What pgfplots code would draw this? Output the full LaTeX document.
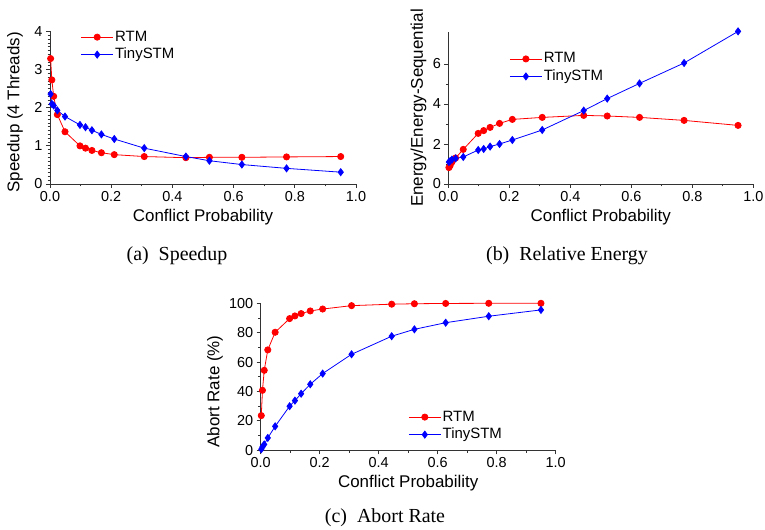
\documentclass[border=0pt]{standalone}
\usepackage{fontspec}
\setmainfont{Liberation Sans}
\newfontfamily\capfont{Liberation Serif}
\usepackage{pgfplots}
\usepackage{pgfplotstable}
\pgfplotsset{compat=1.18}

\pgfplotstableread{
x      spR   spT   enR   enT   abR   abT
0.002  3.29  2.36  0.82  1.10  23.6  0.7
0.006  2.73  2.10  0.92  1.15  40.8  2.3
0.012  2.30  2.06  1.10  1.22  54.4  4.0
0.024  1.82  1.93  1.30  1.28  68.3  8.4
0.049  1.37  1.77  1.73  1.35  80.3  16.3
0.098  1.00  1.55  2.53  1.70  89.6  30.0
0.116  0.94  1.49  2.67  1.75  91.4  33.8
0.137  0.88  1.41  2.83  1.87  93.0  38.5
0.168  0.82  1.30  3.03  2.00  94.8  44.9
0.210  0.77  1.18  3.23  2.20  96.1  52.2
0.308  0.72  0.94  3.33  2.70  98.4  65.3
0.444  0.69  0.72  3.43  3.67  99.4  77.6
0.521  0.70  0.61  3.40  4.27  99.7  82.3
0.627  0.70  0.51  3.33  5.03  99.9  86.8
0.773  0.71  0.41  3.18  6.05  100.0 91.2
0.950  0.72  0.31  2.93  7.63  100.0 95.5
}\data

\pgfplotsset{
  myax/.style={
    scale only axis,
    anchor=south west,
    axis x line*=bottom, axis y line*=left,
    tick align=outside,
    xmin=0, xmax=1,
    xtick={0,0.2,0.4,0.6,0.8,1},
    minor x tick num=1,
    x tick label style={/pgf/number format/.cd, fixed, fixed zerofill, precision=1, /tikz/.cd},
    /pgf/number format/assume math mode=true,
    tick label style={font=\fontsize{14.5}{15}\selectfont},
    label style={font=\fontsize{17}{18}\selectfont},
    xlabel={Conflict Probability},
    xlabel style={at={(axis description cs:0.5,0)}, anchor=center, yshift=-33bp},
    major tick length=4bp, minor tick length=2.5bp,
    axis line style={line width=0.8bp, black!80},
    every tick/.style={black!80, line width=0.8bp},
    clip=false,
    legend cell align=left,
    legend style={draw=none, fill=none, anchor=north west, inner sep=0pt,
      font=\fontsize{15}{16}\selectfont, row sep=0.5bp,
      nodes={inner sep=1.5bp, text height=11bp, text depth=3bp}},
    legend image code/.code={\draw[mark repeat=2,mark phase=2] plot coordinates {(0bp,0bp) (16bp,0bp) (32bp,0bp)};},
  },
  rtm/.style={red, line width=0.8bp, mark=*, mark size=3.1bp, mark options={solid, fill=red}},
  tiny/.style={blue, line width=0.8bp, mark=diamond*, mark size=3.5bp, mark options={solid, fill=blue}},
}

\begin{document}
\begin{tikzpicture}
\path[use as bounding box] (0,0) rectangle (765bp,530bp);

% (a) Speedup
\begin{axis}[myax, at={(50bp,346bp)}, width=306bp, height=152.5bp,
  ymin=0, ymax=4, ytick={0,1,2,3,4}, minor y tick num=9,
  ylabel={Speedup (4 Threads)},
  ylabel style={at={(axis description cs:-0.114,0.47)}, anchor=center},
  legend style={at={(axis description cs:0.10,1.02)}}]
\addplot[rtm] table[x=x, y=spR] {\data};
\addlegendentry{RTM}
\addplot[tiny] table[x=x, y=spT] {\data};
\addlegendentry{TinySTM}
\end{axis}

% (b) Relative Energy
\begin{axis}[myax, at={(448.3bp,346bp)}, width=305bp, height=152bp,
  ymin=0, ymax=7.6, ytick={0,2,4,6}, minor y tick num=1,
  ylabel={Energy/Energy-Sequential},
  ylabel style={at={(axis description cs:-0.098,0.5)}, anchor=center},
  legend style={at={(axis description cs:0.20,0.88)}}]
\addplot[rtm] table[x=x, y=enR] {\data};
\addlegendentry{RTM}
\addplot[tiny] table[x=x, y=enT] {\data};
\addlegendentry{TinySTM}
\end{axis}

% (c) Abort Rate
\begin{axis}[myax, at={(260.7bp,79.7bp)}, width=295bp, height=147bp,
  ymin=0, ymax=100, ytick={0,20,40,60,80,100}, minor y tick num=1,
  ylabel={Abort Rate (\%)},
  ylabel style={at={(axis description cs:-0.155,0.4)}, anchor=center},
  legend style={at={(axis description cs:0.50,0.285)}}]
\addplot[rtm] table[x=x, y=abR] {\data};
\addlegendentry{RTM}
\addplot[tiny] table[x=x, y=abT] {\data};
\addlegendentry{TinySTM}
\end{axis}

\node[font=\capfont\fontsize{20}{22}\selectfont] at (177bp,274bp) {(a)\ \ Speedup};
\node[font=\capfont\fontsize{20}{22}\selectfont] at (567bp,274bp) {(b)\ \ Relative Energy};
\node[font=\capfont\fontsize{20}{22}\selectfont] at (385bp,12bp) {(c)\ \ Abort Rate};
\end{tikzpicture}
\end{document}
